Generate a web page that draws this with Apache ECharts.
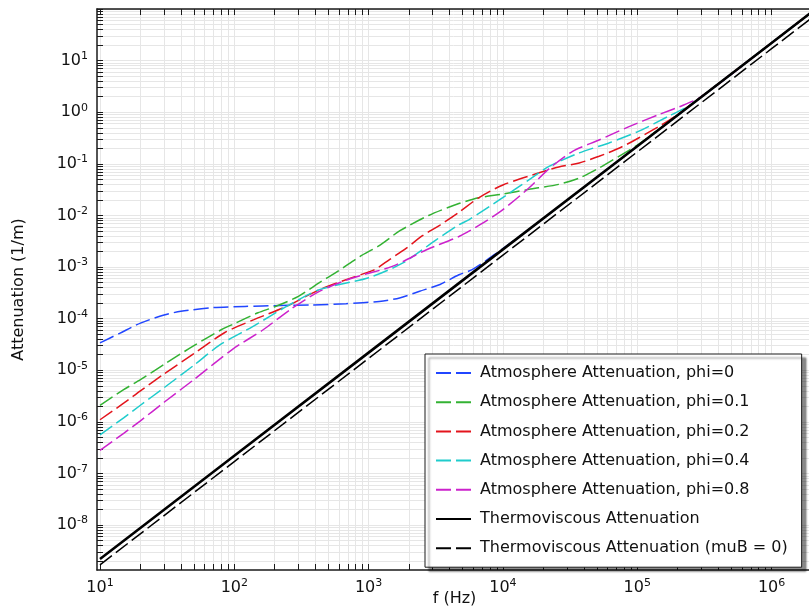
<!DOCTYPE html>
<html><head><meta charset="utf-8">
<script src="https://cdn.jsdelivr.net/npm/echarts@6/dist/echarts.min.js"></script>
<style>html,body{margin:0;padding:0;background:#fff}#c{width:809px;height:611px}</style>
</head><body><div id="c"></div>
<script>
// ---- data ----
const seriesNames = [
  'Atmosphere Attenuation, phi=0',
  'Atmosphere Attenuation, phi=0.1',
  'Atmosphere Attenuation, phi=0.2',
  'Atmosphere Attenuation, phi=0.4',
  'Atmosphere Attenuation, phi=0.8',
  'Thermoviscous Attenuation',
  'Thermoviscous Attenuation (muB = 0)'
];
const freqPhi0 = [10, 14, 20, 30, 40, 70, 120, 220, 380, 680, 1200, 1700, 2400, 3400, 4700, 5900, 8800, 15000, 1e5, 1e6, 2e6];
const attPhi0  = [3.4e-5, 5.2e-5, 8.2e-5, 1.18e-4, 1.39e-4, 1.64e-4, 1.73e-4, 1.8e-4, 1.84e-4, 1.95e-4, 2.16e-4, 2.52e-4, 3.4e-4, 4.6e-4, 7.1e-4, 8.9e-4, 1.8e-3, 4.95e-3, 0.22, 22, 88];

const freqPhi01 = [10, 15, 20, 30, 50, 80, 100, 150, 200, 300, 430, 600, 860, 1200, 1700, 2800, 4700, 6600, 1e4, 1.56e4, 2.6e4, 3.7e4, 5.2e4, 7.3e4, 1e5, 1.5e5, 1e6, 2e6];
const attPhi01  = [2.1e-6, 4.2e-6, 6.6e-6, 1.3e-5, 3.0e-5, 6.1e-5, 8.0e-5, 1.3e-4, 1.7e-4, 2.7e-4, 5.0e-4, 8.5e-4, 1.6e-3, 2.6e-3, 5.0e-3, 1.0e-2, 1.7e-2, 2.2e-2, 2.6e-2, 3.2e-2, 4.0e-2, 5.3e-2, 8.3e-2, 0.14, 0.23, 0.5, 22, 88];

const freqPhi02 = [10, 15, 20, 30, 50, 85, 140, 245, 430, 800, 1100, 1430, 1900, 2500, 3400, 4700, 6600, 1e4, 1.86e4, 2.6e4, 3.7e4, 5.2e4, 7.3e4, 1.03e5, 1.45e5, 2e5, 1e6, 2e6];
const attPhi02  = [1.1e-6, 2.3e-6, 4.0e-6, 8.5e-6, 2.1e-5, 5.4e-5, 9.6e-5, 1.73e-4, 3.65e-4, 6.6e-4, 8.8e-4, 1.4e-3, 2.3e-3, 4.0e-3, 6.5e-3, 1.15e-2, 2.2e-2, 3.9e-2, 6.7e-2, 8.7e-2, 0.104, 0.14, 0.2, 0.32, 0.53, 0.9, 22, 88];

const freqPhi04 = [10, 15, 20, 30, 50, 78, 138, 245, 430, 1000, 1800, 3200, 4700, 5600, 9400, 1.56e4, 2.2e4, 3.7e4, 6.15e4, 1.03e5, 1.7e5, 2.5e5, 1e6, 2e6];
const attPhi04  = [5.6e-7, 1.2e-6, 2.1e-6, 4.6e-6, 1.25e-5, 3.1e-5, 7.1e-5, 1.73e-4, 3.65e-4, 6.2e-4, 1.2e-3, 3.4e-3, 6.6e-3, 8.3e-3, 2.0e-2, 4.9e-2, 8.9e-2, 0.163, 0.254, 0.43, 0.83, 1.4, 22, 88];

const freqPhi08 = [10, 15, 20, 30, 50, 98, 164, 260, 430, 760, 1500, 2700, 4700, 7000, 1e4, 1.56e4, 2.2e4, 3.3e4, 5.2e4, 8.6e4, 1.45e5, 2.05e5, 3e5, 1e6, 2e6];
const attPhi08  = [2.8e-7, 6.0e-7, 1.05e-6, 2.4e-6, 6.6e-6, 2.6e-5, 6.1e-5, 1.49e-4, 3.38e-4, 6.15e-4, 1.03e-3, 2.17e-3, 3.9e-3, 7.0e-3, 1.3e-2, 3.4e-2, 8.0e-2, 0.175, 0.29, 0.52, 0.9, 1.27, 2.0, 22, 88];

const freqThermo = [10, 100, 1e3, 1e4, 1e5, 1e6, 2e6];
const attThermo  = [2.2e-9, 2.2e-7, 2.2e-5, 2.2e-3, 0.22, 22, 88];
const attThermoMuB0 = [1.7e-9, 1.7e-7, 1.7e-5, 1.7e-3, 0.17, 17, 68];

const xDecades = [10, 100, 1e3, 1e4, 1e5, 1e6];
const yDecades = [1e-8, 1e-7, 1e-6, 1e-5, 1e-4, 1e-3, 1e-2, 1e-1, 1, 10];
const xTitle = 'f (Hz)';
const yTitle = 'Attenuation (1/m)';

// ---- styling / build ----
const xMin = 9.5, xMax = 2e6, yMin = 1.35e-9, yMax = 100;
const FONT = 'DejaVu Sans';
const colors = ['#2146ff', '#33b233', '#e3141c', '#1fcccc', '#cc22cc', '#000000', '#000000'];

function allTicks(decades, min, max) {
  const ds = [decades[0] / 10].concat(decades);
  const out = [];
  ds.forEach(d => { for (let k = 1; k <= 9; k++) { const v = k * d; if (v >= min * 0.9999 && v <= max * 1.0001) out.push(v); } });
  const top = ds[ds.length - 1] * 10; if (top <= max * 1.0001) out.push(top);
  return out;
}
const xTicks = allTicks(xDecades, xMin, xMax);
const yTicks = allTicks(yDecades, yMin, yMax);

const rich = {
  b: { fontSize: 16, fontFamily: FONT, color: '#111', lineHeight: 20 },
  s: { fontSize: 11, fontFamily: FONT, color: '#111', lineHeight: 11, verticalAlign: 'top' }
};
function powLabel(v) {
  const e = Math.round(Math.log10(v));
  return '{b|10}{s|' + e + '}';
}
const pairs = (fs, as) => fs.map((f, i) => [f, as[i]]);

const dataSets = [
  pairs(freqPhi0, attPhi0), pairs(freqPhi01, attPhi01), pairs(freqPhi02, attPhi02),
  pairs(freqPhi04, attPhi04), pairs(freqPhi08, attPhi08),
  pairs(freqThermo, attThermo), pairs(freqThermo, attThermoMuB0)
];
const widths = [1.5, 1.5, 1.5, 1.5, 1.5, 2.6, 1.5];
const types = [[15,5],[15,5],[15,5],[15,5],[15,5],'solid',[15,5]];

const series = dataSets.map((d, i) => ({
  name: seriesNames[i], type: 'line', data: d, symbol: 'none', showSymbol: false,
  smooth: i < 5 ? 0.25 : false, clip: true,
  lineStyle: { color: colors[i], width: widths[i], type: types[i] },
  itemStyle: { color: colors[i] },
  z: 2 + i
}));

const axisLineStyle = { color: '#1a1a1a', width: 1.5 };
const chart = echarts.init(document.getElementById('c'), null, { renderer: 'canvas' });
chart.setOption({
  animation: false,
  backgroundColor: '#ffffff',
  grid: { left: 97, right: -3, top: 9, bottom: 41, containLabel: false, outerBoundsMode: 'none' },
  xAxis: [{
    type: 'log', logBase: 10, min: xMin, max: xMax, position: 'bottom',
    name: xTitle, nameLocation: 'middle', nameGap: 21, nameMoveOverlap: false,
    nameTextStyle: { fontSize: 16, fontFamily: FONT, color: '#111' },
    axisLine: { show: true, onZero: false, lineStyle: axisLineStyle },
    axisTick: { show: true, inside: true, length: 6, customValues: xTicks, lineStyle: { color: '#1a1a1a' } },
    axisLabel: { customValues: xDecades, margin: 8, formatter: powLabel, rich: rich },
    splitLine: { show: true, lineStyle: { color: '#e6e6e6', width: 1 } },
    minorTick: { show: false }
  }, {
    type: 'log', logBase: 10, min: xMin, max: xMax, position: 'top',
    axisLine: { show: true, onZero: false, lineStyle: axisLineStyle },
    axisTick: { show: true, inside: true, length: 6, customValues: xTicks, lineStyle: { color: '#1a1a1a' } },
    axisLabel: { show: false },
    splitLine: { show: false }
  }],
  yAxis: [{
    type: 'log', logBase: 10, min: yMin, max: yMax, position: 'left',
    name: yTitle, nameLocation: 'middle', nameGap: 70, nameMoveOverlap: false,
    nameTextStyle: { fontSize: 16, fontFamily: FONT, color: '#111' },
    axisLine: { show: true, onZero: false, lineStyle: axisLineStyle },
    axisTick: { show: true, inside: true, length: 6, customValues: yTicks, lineStyle: { color: '#1a1a1a' } },
    axisLabel: { customValues: yDecades, margin: 9, formatter: powLabel, rich: rich },
    splitLine: { show: true, lineStyle: { color: '#e6e6e6', width: 1 } }
  }],
  legend: {
    data: seriesNames, orient: 'vertical', left: 425, top: 354,
    itemWidth: 35, itemHeight: 14, itemGap: 13.2,
    padding: [11, 14, 11, 10],
    backgroundColor: '#ffffff', borderColor: '#1a1a1a', borderWidth: 1,
    shadowColor: 'rgba(0,0,0,0.45)', shadowOffsetX: 4, shadowOffsetY: 4, shadowBlur: 2,
    itemStyle: { opacity: 0 },
    textStyle: { fontSize: 16, fontFamily: FONT, color: '#111', padding: [0, 0, 0, 4] }
  },
  series: series
});
</script>
</body></html>
